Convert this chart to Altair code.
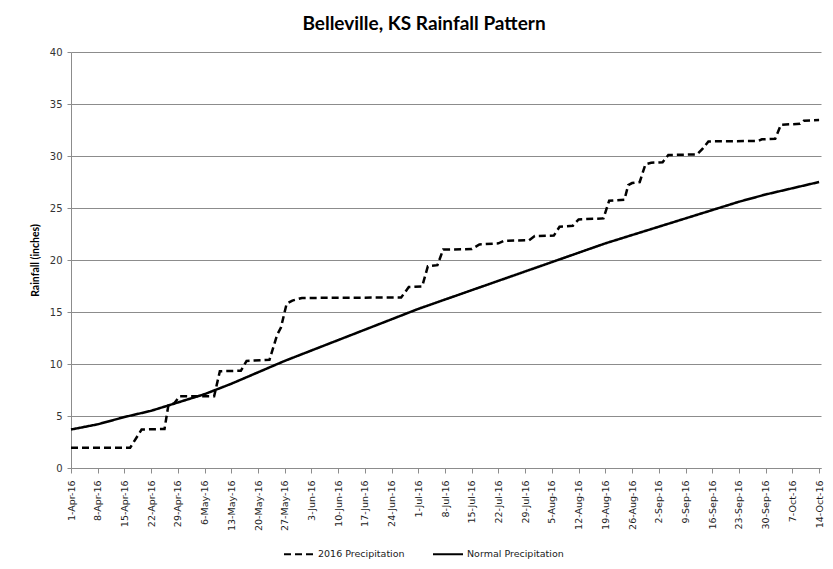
import altair as alt
import pandas as pd

# ---- data ----
start = pd.Timestamp("2016-04-01")

obs_days = [0, 15.5, 18.5, 24.5, 25.5, 27, 28.5, 37.5, 39, 44.5, 46, 52, 54, 55, 56.5, 58, 60.5,
            86.5, 88.5, 92, 93.5, 96, 97.5, 105, 107, 112, 113.5, 120, 121.5, 126.5, 128, 131.5,
            133, 139.5, 141, 145, 146, 147, 149, 150.5, 152, 155, 156.5, 164, 165.5, 167, 180,
            181, 184.5, 186, 191, 192, 196]
obs_vals = [1.95, 1.95, 3.7, 3.75, 6.0, 6.2, 6.9, 6.9, 9.3, 9.35, 10.3, 10.4, 12.8, 13.5, 15.8, 16.1, 16.35,
            16.4, 17.4, 17.45, 19.4, 19.5, 21.0, 21.05, 21.5, 21.6, 21.85, 21.9, 22.3, 22.35, 23.2, 23.3,
            23.9, 24.0, 25.7, 25.8, 27.2, 27.4, 27.5, 29.2, 29.35, 29.4, 30.1, 30.15, 30.7, 31.4, 31.45,
            31.6, 31.65, 33.0, 33.1, 33.4, 33.45]

normal_days = [0, 7, 14, 21, 28, 35, 42, 49, 56, 63, 70, 77, 84, 91, 98, 105, 112, 119, 126,
               133, 140, 147, 154, 161, 168, 175, 182, 189, 196]
normal_vals = [3.7, 4.2, 4.9, 5.5, 6.3, 7.1, 8.1, 9.2, 10.3, 11.3, 12.3, 13.3, 14.3, 15.3, 16.2,
               17.1, 18.0, 18.9, 19.8, 20.7, 21.6, 22.4, 23.2, 24.0, 24.8, 25.6, 26.3, 26.9, 27.5]

tick_month_day = [(4, 1), (4, 8), (4, 15), (4, 22), (4, 29), (5, 6), (5, 13), (5, 20), (5, 27),
                  (6, 3), (6, 10), (6, 17), (6, 24), (7, 1), (7, 8), (7, 15), (7, 22), (7, 29),
                  (8, 5), (8, 12), (8, 19), (8, 26), (9, 2), (9, 9), (9, 16), (9, 23), (9, 30),
                  (10, 7), (10, 14)]

series_names = ["2016 Precipitation", "Normal  Precipitation"]

# ---- build table ----
obs = pd.DataFrame({
    "date": start + pd.to_timedelta(obs_days, unit="D"),
    "value": obs_vals,
    "series": series_names[0],
})
norm = pd.DataFrame({
    "date": start + pd.to_timedelta(normal_days, unit="D"),
    "value": normal_vals,
    "series": series_names[1],
})
df = pd.concat([obs, norm], ignore_index=True)

tick_values = [alt.DateTime(year=2016, month=m, date=d) for m, d in tick_month_day]

grey = "#8c8c8c"

chart = alt.Chart(df).mark_line(strokeWidth=2.5).encode(
    x=alt.X(
        "date:T",
        scale=alt.Scale(domain=[alt.DateTime(year=2016, month=4, date=1),
                                alt.DateTime(year=2016, month=10, date=14, hours=12)]),
        axis=alt.Axis(values=tick_values, format="%-d-%b-%y", labelAngle=270, title=None,
                      grid=False, domainColor=grey, tickColor=grey, tickSize=5,
                      labelPadding=7, labelFontSize=9.5, labelFont="DejaVu Sans",
                      labelColor="#1a1a1a"),
    ),
    y=alt.Y(
        "value:Q",
        scale=alt.Scale(domain=[0, 40]),
        axis=alt.Axis(values=list(range(0, 45, 5)), title="Rainfall (inches)",
                      titleFontSize=10.5, titleFontWeight="bold", titleFont="Lato",
                      titlePadding=9, titleColor="#000000",
                      grid=True, gridColor=grey, domainColor=grey, tickColor=grey,
                      tickSize=4, labelPadding=5, labelFontSize=10,
                      labelFont="DejaVu Sans", labelColor="#333333"),
    ),
    color=alt.Color("series:N", scale=alt.Scale(domain=series_names, range=["#000000", "#000000"]),
                    legend=alt.Legend(title=None, orient="none", direction="horizontal",
                                      legendX=212, legendY=486, padding=0,
                                      symbolType="stroke",
                                      symbolSize=900, symbolStrokeWidth=2,
                                      labelFontSize=9.5, labelFont="DejaVu Sans",
                                      labelColor="#1a1a1a",
                                      columnPadding=24, labelOffset=3)),
    strokeDash=alt.StrokeDash("series:N",
                              scale=alt.Scale(domain=series_names, range=[[7, 4], [1, 0]]),
                              legend=None),
).properties(
    width=750,
    height=416,
    padding={"left": 63, "top": 44, "right": 4, "bottom": 92},
    autosize=alt.AutoSizeParams(type="none"),
    title=alt.TitleParams("Belleville, KS Rainfall Pattern", fontSize=19,
                          font="Lato", fontWeight="bold",
                          anchor="middle", offset=13, dx=-22, color="#000000"),
).configure_view(strokeWidth=0)

chart.save("out.html", embed_options={"renderer": "svg", "actions": False})
